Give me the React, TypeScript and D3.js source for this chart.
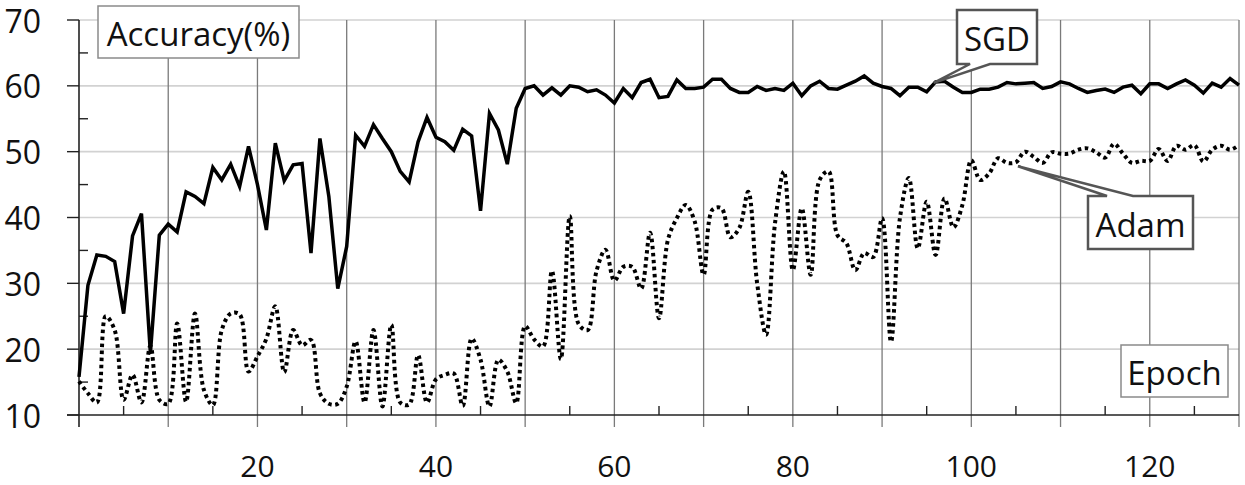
import React from "react";
import * as d3 from "d3";

const epochsMax = 130;
const yTicks = [10, 20, 30, 40, 50, 60, 70];
const xLabelTicks = [20, 40, 60, 80, 100, 120];

const sgd = [
  15.8, 29.7, 34.3, 34.1, 33.3, 25.4, 37.2, 40.6, 19.4, 37.3,
  39.0, 37.8, 43.9, 43.2, 42.1, 47.6, 45.7, 48.1, 44.7, 50.8,
  45.0, 38.1, 51.3, 45.6, 48.0, 48.2, 34.6, 52.0, 43.2, 29.2,
  35.6, 52.5, 50.8, 54.1, 52.0, 50.0, 47.0, 45.4, 51.5, 55.2,
  52.2, 51.5, 50.2, 53.4, 52.4, 41.0, 55.8, 53.3, 48.1, 56.6,
  59.6, 60.0, 58.6, 59.7, 58.6, 60.0, 59.8, 59.1, 59.4, 58.6,
  57.4, 59.6, 58.2, 60.5, 61.0, 58.2, 58.4, 60.9, 59.6, 59.6,
  59.8, 61.0, 61.0, 59.6, 59.0, 59.0, 59.9, 59.3, 59.6, 59.3,
  60.4, 58.5, 60.0, 60.7, 59.6, 59.5, 60.1, 60.7, 61.5, 60.4,
  59.9, 59.6, 58.5, 59.8, 59.8, 59.1, 60.6, 60.7, 59.8, 59.0,
  59.0, 59.5, 59.5, 59.8, 60.5, 60.3, 60.4, 60.5, 59.6, 59.9,
  60.6, 60.3, 59.6, 59.0, 59.3, 59.5, 59.0, 59.8, 60.1, 58.8,
  60.3, 60.3, 59.6, 60.3, 60.9, 60.1, 58.9, 60.4, 59.8, 61.1,
  60.1,
];

const adam = [
  15.1, 13.3, 11.9, 25.0, 22.9, 12.3, 16.1, 11.9, 20.5, 12.3,
  11.7, 23.9, 12.0, 25.4, 13.8, 11.5, 22.9, 25.4, 25.3, 16.6,
  18.9, 21.6, 26.5, 16.5, 22.9, 20.6, 21.4, 13.3, 11.7, 11.7,
  14.3, 21.2, 11.9, 22.9, 11.3, 23.7, 11.9, 11.6, 19.1, 11.9,
  15.4, 16.1, 16.3, 11.4, 21.6, 18.4, 11.3, 18.4, 16.6, 11.8,
  23.5, 21.5, 20.4, 31.9, 18.5, 40.2, 23.8, 22.9, 31.9, 35.1,
  30.4, 32.5, 32.5, 29.2, 37.7, 24.7, 36.6, 39.9, 41.9, 39.4,
  31.3, 41.2, 41.4, 37.0, 38.4, 43.9, 30.0, 22.2, 39.1, 47.0,
  32.0, 41.4, 31.3, 45.7, 47.0, 37.3, 36.1, 32.0, 34.6, 34.0,
  39.9, 21.1, 39.9, 46.0, 35.3, 42.4, 34.3, 42.9, 38.5, 41.9,
  48.7, 45.7, 46.7, 49.0, 48.3, 48.4, 50.0, 49.2, 48.3, 49.9,
  49.7, 49.7, 50.3, 50.5, 49.9, 49.1, 51.2, 49.7, 48.3, 48.6,
  48.6, 50.4, 48.6, 50.9, 50.3, 51.0, 48.5, 50.3, 50.9, 50.3,
  51.0,
];

const W = 1245;
const H = 485;
const FONT = "'Open Sans', 'Noto Sans', sans-serif";

export default function App() {
  const x = d3.scaleLinear().domain([0, epochsMax]).range([79, 1239]);
  const y = d3.scaleLinear().domain([10, 70]).range([415, 20]);

  const sgdLine = d3
    .line<number>()
    .x((_, i) => x(i))
    .y((d) => y(d));
  const adamLine = d3
    .line<number>()
    .x((_, i) => x(i))
    .y((d) => y(d))
    .curve(d3.curveCatmullRom.alpha(0.5));

  const xMajor = d3.range(10, epochsMax + 1, 10);
  const xMinor = d3.range(5, epochsMax, 10);
  const yMinor = d3.range(15, 70, 10);

  const x0 = x(0);
  const xEnd = x(epochsMax);
  const yBase = y(10);
  const yTop = y(70);

  const sgdTip = [x(96) - 2, y(sgd[96]) + 1];
  const adamTip = [x(105) + 2, y(adam[105]) + 4];

  return (
    <svg
      width={W}
      height={H}
      style={{ position: "absolute", left: 0, top: 0, background: "#fff" }}
      fontFamily={FONT}
    >
      <rect x={0} y={0} width={W} height={H} fill="#fff" />
      {yTicks.slice(1).map((t) => (
        <line
          key={"hg" + t}
          x1={x0}
          x2={xEnd}
          y1={y(t)}
          y2={y(t)}
          stroke="#d2d2d2"
          strokeWidth={1.6}
        />
      ))}
      {xMajor.map((t) => (
        <line
          key={"vg" + t}
          x1={x(t)}
          x2={x(t)}
          y1={yTop}
          y2={yBase + 12}
          stroke="#7a7a7a"
          strokeWidth={1.3}
        />
      ))}
      {xMinor.map((t) => (
        <line
          key={"xm" + t}
          x1={x(t)}
          x2={x(t)}
          y1={yBase - 9}
          y2={yBase}
          stroke="#222"
          strokeWidth={1.4}
        />
      ))}
      <line x1={x0} x2={x0} y1={yTop} y2={yBase + 12} stroke="#222" strokeWidth={1.6} />
      {yTicks.map((t) => (
        <line
          key={"yt" + t}
          x1={x0 - 12}
          x2={x0}
          y1={y(t)}
          y2={y(t)}
          stroke="#222"
          strokeWidth={1.4}
        />
      ))}
      {yMinor.map((t) => (
        <line
          key={"ym" + t}
          x1={x0}
          x2={x0 + 9}
          y1={y(t)}
          y2={y(t)}
          stroke="#222"
          strokeWidth={1.4}
        />
      ))}
      <line x1={x0 - 12} x2={xEnd} y1={yBase} y2={yBase} stroke="#222" strokeWidth={1.6} />

      {yTicks.map((t) => (
        <text
          key={"yl" + t}
          x={41}
          y={y(t)}
          textAnchor="end"
          dominantBaseline="central"
          fontSize={32}
          fill="#111"
        >
          {t}
        </text>
      ))}
      {xLabelTicks.map((t) => (
        <text
          key={"xl" + t}
          x={x(t)}
          y={465}
          textAnchor="middle"
          dominantBaseline="central"
          fontSize={30}
          fill="#111"
        >
          {t}
        </text>
      ))}

      <path
        d={adamLine(adam) || ""}
        fill="none"
        stroke="#000"
        strokeWidth={4}
        strokeDasharray="3.5 3.5"
      />
      <path
        d={sgdLine(sgd) || ""}
        fill="none"
        stroke="#000"
        strokeWidth={3.5}
        strokeLinejoin="miter"
      />

      <rect x={98} y={6} width={201} height={52} fill="#fff" stroke="#8a8a8a" strokeWidth={1.5} />
      <text x={198.5} y={33} textAnchor="middle" dominantBaseline="central" fontSize={33} fill="#111">
        Accuracy(%)
      </text>

      <rect x={1121} y={345} width={107} height={52} fill="#fff" stroke="#8a8a8a" strokeWidth={1.5} />
      <text x={1174.5} y={372} textAnchor="middle" dominantBaseline="central" fontSize={33} fill="#111">
        Epoch
      </text>

      <path
        d={`M957,10 H1037 V64 H990 L${sgdTip[0]},${sgdTip[1]} L970,64 H957 Z`}
        fill="#fff"
        stroke="#555"
        strokeWidth={2.5}
        strokeLinejoin="miter"
      />
      <text x={997} y={38} textAnchor="middle" dominantBaseline="central" fontSize={33} fill="#111">
        SGD
      </text>

      <path
        d={`M1088,196 H1107 L${adamTip[0]},${adamTip[1]} L1133,196 H1193 V249 H1088 Z`}
        fill="#fff"
        stroke="#555"
        strokeWidth={2.5}
        strokeLinejoin="miter"
      />
      <text x={1140.5} y={224} textAnchor="middle" dominantBaseline="central" fontSize={33} fill="#111">
        Adam
      </text>
    </svg>
  );
}
